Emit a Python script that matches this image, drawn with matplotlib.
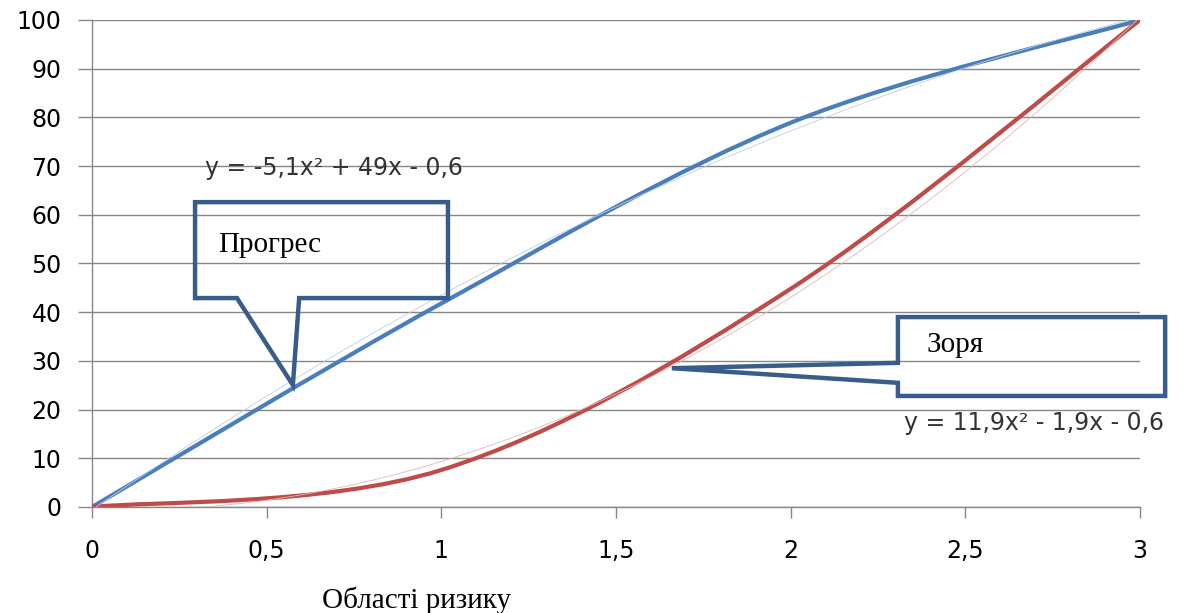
import numpy as np
import matplotlib
matplotlib.use("Agg")
import matplotlib.pyplot as plt
from matplotlib.patches import Polygon, PathPatch
from matplotlib.path import Path

# values
x_vals = [0, 1, 2, 3]
progres = [0, 41.8, 78.9, 100]
zorya = [0, 7.6, 44.8, 100]

x_ticks = [0, 0.5, 1, 1.5, 2, 2.5, 3]
x_ticklabels = ["0", "0,5", "1", "1,5", "2", "2,5", "3"]
y_ticks = [0, 10, 20, 30, 40, 50, 60, 70, 80, 90, 100]

eq_progres = "y = -5,1x² + 49x - 0,6"
eq_zorya = "y = 11,9x² - 1,9x - 0,6"

blue = "#4A7EBB"
red = "#BE4B48"
box_col = "#385D8A"
grid_col = "#878787"


def smooth_path(xs, ys):
    # excel style smoothed line: bezier segments through the points
    pts = np.column_stack([xs, ys]).astype(float)
    n = len(pts)
    verts = [pts[0]]
    codes = [Path.MOVETO]
    for i in range(n - 1):
        p_prev = pts[max(i - 1, 0)]
        p0 = pts[i]
        p1 = pts[i + 1]
        p_next = pts[min(i + 2, n - 1)]
        c1 = p0 + (p1 - p_prev) / 6.0
        c2 = p1 - (p_next - p0) / 6.0
        verts += [c1, c2, p1]
        codes += [Path.CURVE4] * 3
    return Path(verts, codes)


fig = plt.figure(figsize=(11.97, 6.13), dpi=100)
ax = fig.add_axes([92/1197, 1 - 507/613, (1140-92)/1197, (507-20)/613])

ax.add_patch(PathPatch(smooth_path(x_vals, progres), fill=False, ec=blue, lw=3,
                       capstyle="round", zorder=3))
ax.add_patch(PathPatch(smooth_path(x_vals, zorya), fill=False, ec=red, lw=3,
                       capstyle="round", zorder=3))

# polynomial trendlines (thin)
xx = np.linspace(0, 3, 100)
p1 = np.polyfit(x_vals, progres, 2)
p2 = np.polyfit(x_vals, zorya, 2)
ax.plot(xx, np.polyval(p1, xx), color="#B9CFEA", lw=0.6, zorder=4)
ax.plot(xx, np.polyval(p2, xx), color="#E8B5B3", lw=0.6, zorder=4)

ax.set_xlim(0, 3)
ax.set_ylim(0, 100)
ax.set_xticks(x_ticks)
ax.set_xticklabels(x_ticklabels)
ax.set_yticks(y_ticks)
ax.tick_params(axis="y", length=10, width=1, color=grid_col, pad=12, labelsize=17)
ax.tick_params(axis="x", length=8, width=1, color=grid_col, pad=15, labelsize=17)
ax.grid(axis="y", color=grid_col, lw=1)
ax.set_axisbelow(True)
for s in ["top", "right"]:
    ax.spines[s].set_visible(False)
for s in ["left", "bottom"]:
    ax.spines[s].set_color(grid_col)
    ax.spines[s].set_linewidth(1)

# callouts
c1 = Polygon([(0.295, 62.6), (1.019, 62.6), (1.019, 42.9), (0.593, 42.9),
              (0.575, 25.05), (0.415, 42.9), (0.295, 42.9)],
             closed=True, fill=False, ec=box_col, lw=3.2, joinstyle="miter", zorder=5)
ax.add_patch(c1)
c2 = Polygon([(2.307, 39.0), (3.072, 39.0), (3.072, 22.8), (2.307, 22.8),
              (2.307, 25.5), (1.660, 28.5), (2.307, 29.6)],
             closed=True, fill=False, ec=box_col, lw=3.2, joinstyle="miter",
             zorder=5, clip_on=False)
ax.add_patch(c2)

ax.text(0.361, 53.8, "Прогрес", family="Liberation Serif", fontsize=21, va="center")
ax.text(2.388, 33.3, "Зоря", family="Liberation Serif", fontsize=21, va="center")

ax.text(0.3235, 69.6, eq_progres, fontsize=17, color="#333333", va="center")
ax.text(2.325, 17.2, eq_zorya, fontsize=17, color="#333333", va="center", clip_on=False)

fig.text(322/1197, 1 - 600/613, "Області ризику", family="Liberation Serif",
         fontsize=21, va="center")

fig.savefig("out.png", dpi=100)
